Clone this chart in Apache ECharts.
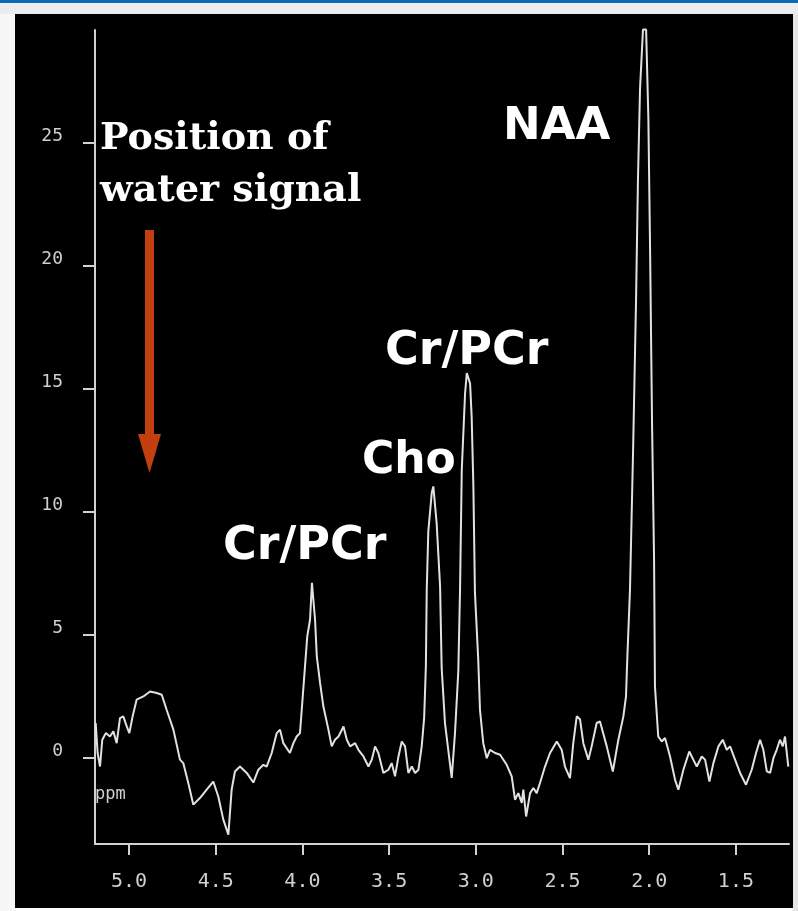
<!DOCTYPE html>
<html>
<head>
<meta charset="utf-8">
<script src="https://cdn.jsdelivr.net/npm/echarts@6/dist/echarts.min.js"></script>
<style>
  html, body { margin: 0; padding: 0; background: #ffffff; width: 798px; height: 911px; overflow: hidden; }
  #topbar { position: absolute; left: 0; top: 0; width: 798px; height: 3px; background: #0b6ab1; }
  #band { position: absolute; left: 0; top: 3px; width: 798px; height: 11px; background: #ececec; }
  #leftstrip { position: absolute; left: 0; top: 14px; width: 15px; height: 897px; background: #f7f7f7; }
  #rightstrip { position: absolute; left: 793px; top: 14px; width: 5px; height: 897px; background: #e6e6e6; }
  #chart { position: absolute; left: 15px; top: 14px; width: 778px; height: 894px; background: #000000; }
</style>
</head>
<body>
<div id="topbar"></div>
<div id="band"></div>
<div id="leftstrip"></div>
<div id="rightstrip"></div>
<div id="chart"></div>
<script>
var ppm = [
  5.192, 5.181, 5.167, 5.154, 5.133, 5.110, 5.090, 5.071, 5.052, 5.033,
  5.013, 4.998, 4.979, 4.956, 4.917, 4.879, 4.840, 4.811, 4.783, 4.744,
  4.706, 4.687, 4.658, 4.629, 4.591, 4.552, 4.514, 4.485, 4.456, 4.427,
  4.408, 4.389, 4.360, 4.321, 4.283, 4.254, 4.225, 4.206, 4.177, 4.148,
  4.129, 4.110, 4.072, 4.052, 4.033, 4.014, 3.998, 3.985, 3.972, 3.956,
  3.945, 3.927, 3.917, 3.898, 3.879, 3.850, 3.831, 3.812, 3.792, 3.763,
  3.744, 3.725, 3.696, 3.677, 3.648, 3.619, 3.600, 3.581, 3.562, 3.533,
  3.504, 3.485, 3.466, 3.446, 3.427, 3.408, 3.389, 3.369, 3.350, 3.331,
  3.312, 3.298, 3.288, 3.283, 3.274, 3.254, 3.245, 3.226, 3.206, 3.197,
  3.178, 3.159, 3.139, 3.120, 3.101, 3.091, 3.081, 3.062, 3.052, 3.033,
  3.024, 3.014, 3.005, 2.986, 2.976, 2.957, 2.937, 2.918, 2.889, 2.860,
  2.822, 2.793, 2.774, 2.755, 2.735, 2.726, 2.710, 2.687, 2.668, 2.649,
  2.630, 2.601, 2.572, 2.533, 2.505, 2.486, 2.457, 2.438, 2.418, 2.399,
  2.380, 2.351, 2.332, 2.303, 2.284, 2.245, 2.210, 2.178, 2.149, 2.134,
  2.126, 2.111, 2.093, 2.076, 2.065, 2.053, 2.036, 2.018, 2.005, 1.995,
  1.984, 1.972, 1.967, 1.948, 1.928, 1.909, 1.880, 1.851, 1.832, 1.803,
  1.769, 1.746, 1.726, 1.697, 1.678, 1.653, 1.630, 1.601, 1.576, 1.553,
  1.534, 1.505, 1.476, 1.442, 1.409, 1.384, 1.361, 1.342, 1.322, 1.303,
  1.284, 1.265, 1.246, 1.230, 1.217, 1.198
];
// Signal intensity at each ppm value
var intensity = [
  1.40, 0.18, -0.37, 0.72, 0.99, 0.85, 1.06, 0.58, 1.60, 1.67,
  1.26, 0.99, 1.67, 2.35, 2.48, 2.68, 2.62, 2.55, 1.94, 1.13,
  -0.09, -0.23, -1.04, -1.92, -1.65, -1.31, -0.98, -1.59, -2.53, -3.14,
  -1.31, -0.57, -0.37, -0.63, -1.02, -0.50, -0.30, -0.37, 0.18, 0.99,
  1.13, 0.58, 0.18, 0.58, 0.85, 0.99, 2.48, 3.70, 4.92, 5.60,
  7.10, 5.60, 4.11, 3.02, 2.07, 1.13, 0.45, 0.72, 0.85, 1.26,
  0.72, 0.45, 0.58, 0.31, 0.04, -0.37, -0.09, 0.45, 0.18, -0.63,
  -0.50, -0.23, -0.77, 0.04, 0.65, 0.45, -0.63, -0.37, -0.63, -0.50,
  0.45, 1.60, 3.70, 6.82, 9.19, 10.76, 11.02, 9.54, 6.94, 3.65,
  1.41, 0.31, -0.83, 1.00, 3.50, 6.82, 11.70, 14.80, 15.63, 15.20,
  13.86, 11.00, 6.70, 3.97, 1.94, 0.58, -0.03, 0.31, 0.18, 0.11,
  -0.30, -0.77, -1.72, -1.45, -1.85, -1.31, -2.40, -1.45, -1.24, -1.45,
  -1.04, -0.37, 0.18, 0.65, 0.31, -0.37, -0.84, 0.58, 1.67, 1.55,
  0.58, -0.09, 0.45, 1.40, 1.46, 0.45, -0.57, 0.72, 1.67, 2.48,
  4.11, 6.82, 12.5, 18.6, 23.5, 27.2, 29.6, 29.6, 26.0, 20.6,
  13.7, 8.0, 2.89, 0.85, 0.65, 0.79, 0.04, -0.91, -1.31, -0.50,
  0.24, -0.09, -0.37, 0.04, -0.09, -0.98, -0.23, 0.45, 0.72, 0.31,
  0.45, -0.09, -0.63, -1.11, -0.50, 0.18, 0.72, 0.31, -0.57, -0.63,
  -0.03, 0.31, 0.72, 0.45, 0.85, -0.37
];
// Axis tick labels
var xTicks = [1.5, 2.0, 2.5, 3.0, 3.5, 4.0, 4.5, 5.0];
var yTicks = [0, 5, 10, 15, 20, 25];
var xRange = [1.194, 5.196];
var yRange = [-3.52, 29.58];
// Annotation texts
var peakLabels = ['NAA', 'Cr/PCr', 'Cho', 'Cr/PCr'];
var waterLabel = ['Position of', 'water signal'];
var axisUnit = 'ppm';

var seriesData = ppm.map(function (p, i) { return [p, intensity[i]]; });

var chart = echarts.init(document.getElementById('chart'), null, { renderer: 'canvas' });
var axisColor = '#d2d2d2';
var labelFont = 'DejaVu Sans Mono';

chart.setOption({
  backgroundColor: '#000000',
  animation: false,
  grid: { left: 80, top: 16, right: 4, bottom: 64, containLabel: false },
  xAxis: {
    type: 'value',
    inverse: true,
    min: xRange[0],
    max: xRange[1],
    axisLine: { show: true, onZero: false, lineStyle: { color: axisColor, width: 2 } },
    axisTick: { show: true, customValues: xTicks, length: 11, lineStyle: { color: axisColor, width: 2 } },
    axisLabel: {
      customValues: xTicks,
      formatter: function (v) { return Number(v).toFixed(1); },
      margin: 28,
      color: '#d0d0d0',
      fontFamily: labelFont,
      fontSize: 20
    },
    splitLine: { show: false }
  },
  yAxis: {
    type: 'value',
    min: yRange[0],
    max: yRange[1],
    axisLine: { show: true, onZero: false, lineStyle: { color: axisColor, width: 2 } },
    axisTick: { show: true, customValues: yTicks, length: 12, lineStyle: { color: axisColor, width: 2 } },
    axisLabel: {
      customValues: yTicks,
      margin: 32,
      color: '#cfcfcf',
      fontFamily: labelFont,
      fontSize: 18,
      verticalAlign: 'bottom',
      lineHeight: 13
    },
    splitLine: { show: false }
  },
  series: [{
    type: 'line',
    data: seriesData,
    showSymbol: false,
    symbol: 'none',
    smooth: false,
    clip: false,
    lineStyle: { color: '#e2e2e2', width: 2 },
    z: 3
  }],
  graphic: [
    { type: 'text', left: 80, top: 772, style: { text: axisUnit, fill: '#cfcfcf', font: '17px "DejaVu Sans Mono"' } },
    { type: 'text', x: 85, y: 125, style: { text: waterLabel[0], fill: '#ffffff', font: 'bold 38px "DejaVu Serif"', verticalAlign: 'middle' } },
    { type: 'text', x: 85, y: 177, style: { text: waterLabel[1], fill: '#ffffff', font: 'bold 38px "DejaVu Serif"', verticalAlign: 'middle' } },
    { type: 'rect', shape: { x: 130, y: 216, width: 9, height: 208 }, style: { fill: '#c43f10' } },
    { type: 'polygon', shape: { points: [[123, 420], [146, 420], [134.5, 459]] }, style: { fill: '#c43f10' } },
    { type: 'text', x: 488, y: 113, style: { text: peakLabels[0], fill: '#ffffff', font: 'bold 45px "DejaVu Sans"', verticalAlign: 'middle' } },
    { type: 'text', x: 370, y: 338, style: { text: peakLabels[1], fill: '#ffffff', font: 'bold 46px "DejaVu Sans"', verticalAlign: 'middle' } },
    { type: 'text', x: 347, y: 448, style: { text: peakLabels[2], fill: '#ffffff', font: 'bold 44px "DejaVu Sans"', verticalAlign: 'middle' } },
    { type: 'text', x: 208, y: 533, style: { text: peakLabels[3], fill: '#ffffff', font: 'bold 46px "DejaVu Sans"', verticalAlign: 'middle' } }
  ]
});
</script>
</body>
</html>
